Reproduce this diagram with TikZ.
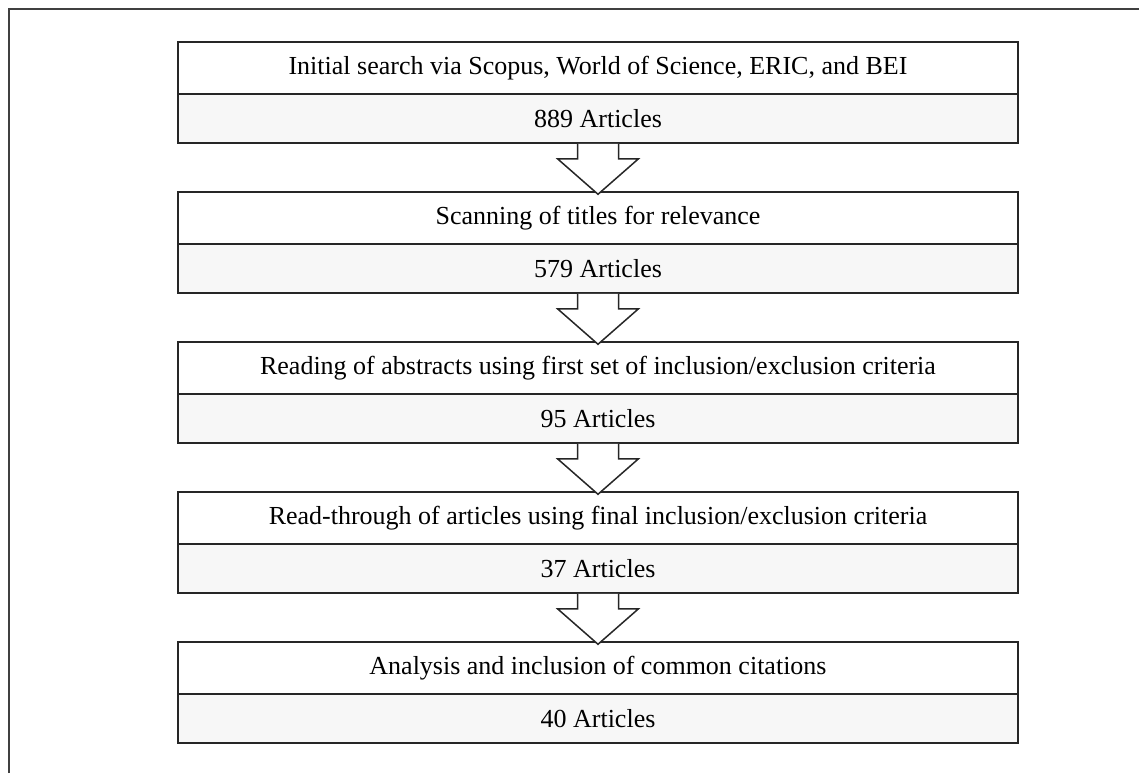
\documentclass[tikz,border=0pt]{standalone}
\usepackage{fontspec}
\setmainfont{Liberation Serif}
\usepackage{tikz}
\usetikzlibrary{calc}

\begin{document}
\begin{tikzpicture}[
  x=0.5pt, y=-0.5pt,
  stage/.style={draw=black!85, line width=0.75pt, minimum width=420pt, minimum height=26pt, inner sep=0pt, fill=white, font=\fontsize{13}{15}\selectfont},
  count/.style={stage, minimum height=24.5pt, fill=black!3},
  blockarr/.style={draw=black!85, line width=0.75pt, fill=white, line join=miter}
]
\useasboundingbox (0,0) rectangle (1139,773);
\draw[black!75, line width=0.75pt] (9,773) -- (9,9) -- (1139,9);
% stages
\node[stage] (s1) at (598,68) {Initial search via Scopus, World of Science, ERIC, and BEI};
\node[count] (n1) at (598,118.5) {889 Articles};
\node[stage] (s2) at (598,218) {Scanning of titles for relevance};
\node[count] (n2) at (598,268.5) {579 Articles};
\node[stage] (s3) at (598,368) {Reading of abstracts using first set of inclusion/exclusion criteria};
\node[count] (n3) at (598,418.5) {95 Articles};
\node[stage] (s4) at (598,518) {Read-through of articles using final inclusion/exclusion criteria};
\node[count] (n4) at (598,568.5) {37 Articles};
\node[stage] (s5) at (598,668) {Analysis and inclusion of common citations};
\node[count] (n5) at (598,718.5) {40 Articles};
% block arrows
\draw[blockarr] ($(n1.south)+(-20.5,0)$) -- ++(0,15) -- ++(-20,0) -- ($(s2.north)+(0,3)$)
  -- ($(n1.south)+(40.5,15)$) -- ++(-20,0) -- ++(0,-15);
\draw[blockarr] ($(n2.south)+(-20.5,0)$) -- ++(0,15) -- ++(-20,0) -- ($(s3.north)+(0,3)$)
  -- ($(n2.south)+(40.5,15)$) -- ++(-20,0) -- ++(0,-15);
\draw[blockarr] ($(n3.south)+(-20.5,0)$) -- ++(0,15) -- ++(-20,0) -- ($(s4.north)+(0,3)$)
  -- ($(n3.south)+(40.5,15)$) -- ++(-20,0) -- ++(0,-15);
\draw[blockarr] ($(n4.south)+(-20.5,0)$) -- ++(0,15) -- ++(-20,0) -- ($(s5.north)+(0,3)$)
  -- ($(n4.south)+(40.5,15)$) -- ++(-20,0) -- ++(0,-15);
\end{tikzpicture}
\end{document}
